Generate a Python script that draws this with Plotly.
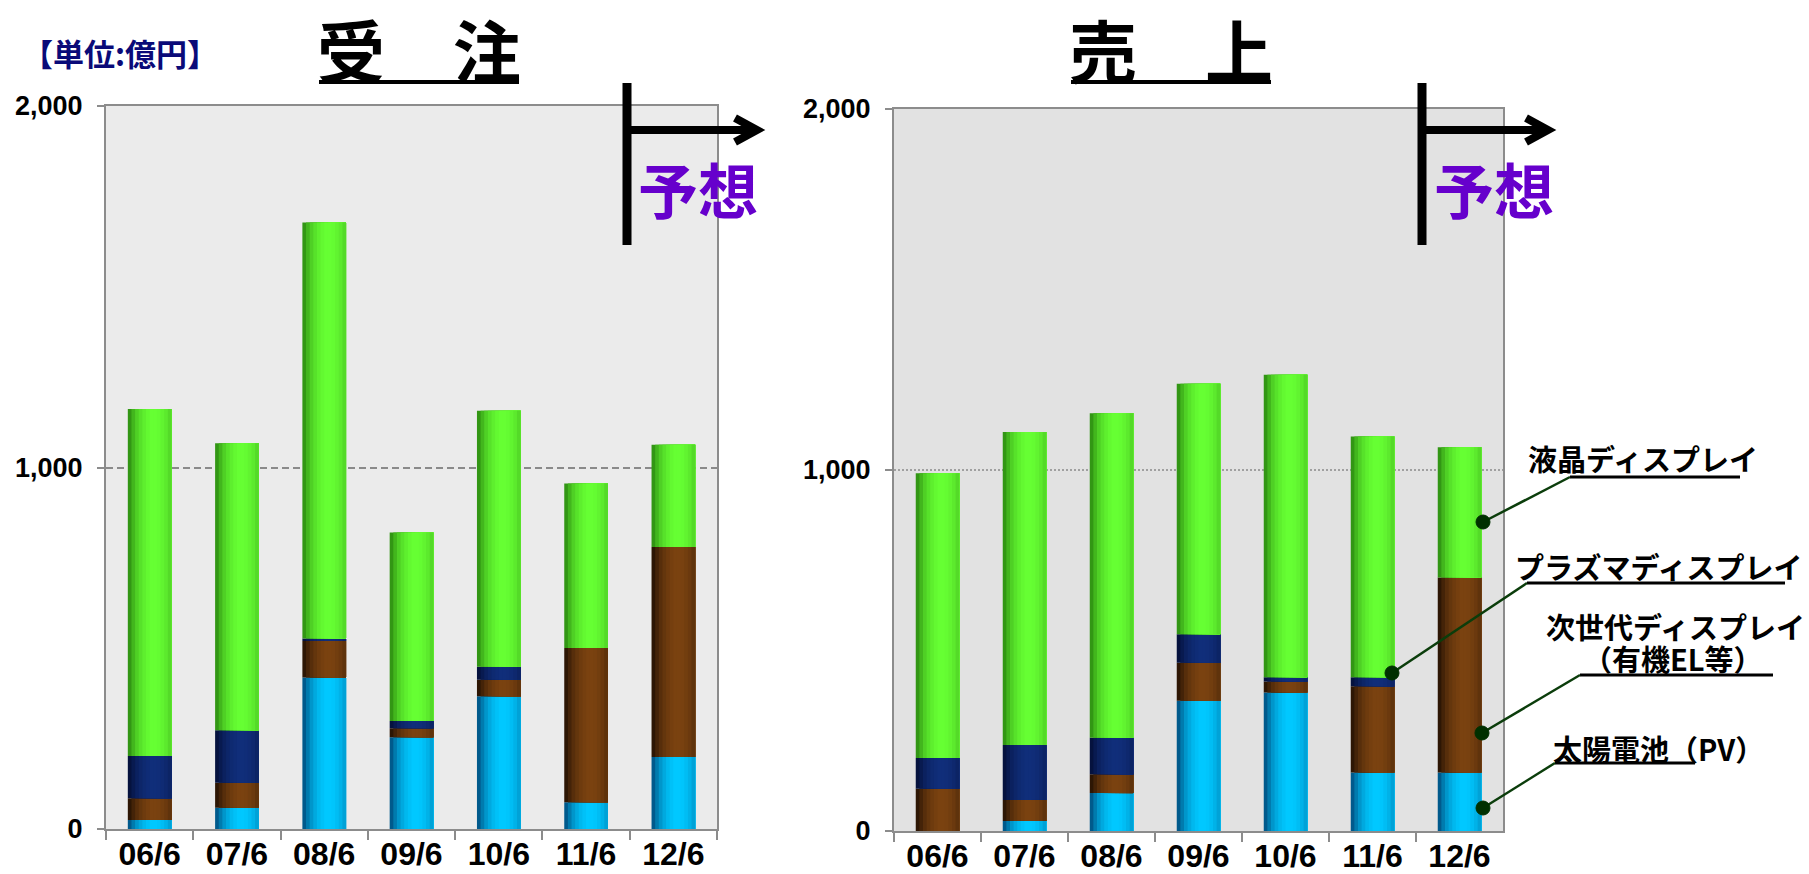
import plotly.graph_objects as go

# ---------------- data ----------------
categories = ["06/6", "07/6", "08/6", "09/6", "10/6", "11/6", "12/6"]

# 受注 (orders), 億円
orders_pv   = [25, 59, 419, 254, 367, 74, 199]     # 太陽電池(PV)
orders_oled = [60, 69, 101, 25, 46, 427, 581]      # 次世代ディスプレイ(有機EL等)
orders_pdp  = [117, 145, 7, 20, 36, 0, 0]          # プラズマディスプレイ
orders_lcd  = [960, 794, 1151, 521, 708, 455, 283] # 液晶ディスプレイ

# 売上 (sales), 億円
sales_pv   = [0, 28, 105, 361, 384, 162, 162]
sales_oled = [117, 58, 52, 105, 30, 239, 540]
sales_pdp  = [85, 152, 101, 79, 12, 25, 0]
sales_lcd  = [789, 867, 899, 694, 838, 667, 361]

series_names = ["太陽電池（PV）", "次世代ディスプレイ（有機EL等）", "プラズマディスプレイ", "液晶ディスプレイ"]
y_tickvals = [0, 1000, 2000]
titles = ["受　注", "売　上"]
unit_label = "【単位:億円】"
forecast_label = "予想"

# ---------------- style ----------------
W, H = 1809, 874
base_colors = [(0, 200, 255), (122, 66, 16), (16, 46, 122), (102, 255, 51)]
edge_colors = [(0, 90, 140), (45, 22, 4), (5, 18, 62), (50, 150, 20)]
# cylinder shading profile, left -> right
profile = [0.0, 0.3, 0.55, 0.72, 0.85, 0.94, 1.0, 1.0, 0.97, 0.9, 0.8, 0.65]
BAR_W = 0.5
JP = "Noto Sans CJK JP"
EN = "Liberation Sans"
EN_NARROW = "Liberation Sans Narrow, Liberation Sans"


def px(x):
    return x / W


def py(y):
    return 1 - y / H


def mix(c_edge, c_main, t):
    return "rgb(%d,%d,%d)" % tuple(round(e + (m - e) * t) for e, m in zip(c_edge, c_main))


fig = go.Figure()


def add_stack(stack, xa, ya):
    base = [0] * len(categories)
    n = len(profile)
    sw = BAR_W / n
    for si, vals in enumerate(stack):
        for k, t in enumerate(profile):
            fig.add_trace(go.Bar(
                x=categories, y=vals, base=list(base),
                offset=-BAR_W / 2 + k * sw, width=BAR_W - k * sw,
                marker=dict(color=mix(edge_colors[si], base_colors[si], t), line=dict(width=0)),
                name=series_names[si], showlegend=False, hoverinfo="skip",
                xaxis=xa, yaxis=ya,
            ))
        base = [b + v for b, v in zip(base, vals)]


add_stack([orders_pv, orders_oled, orders_pdp, orders_lcd], "x", "y")
add_stack([sales_pv, sales_oled, sales_pdp, sales_lcd], "x2", "y2")

axis_gray = "#8c8c8c"
tick_font_x = dict(family=EN_NARROW, size=32, color="black", weight="bold")
tick_font_y = dict(family=EN, size=27, color="black", weight="bold")


def xaxis_cfg(domain, anchor):
    return dict(domain=domain, anchor=anchor, type="category", categoryorder="array",
                categoryarray=categories, range=[-0.5, len(categories) - 0.5],
                tickson="boundaries", ticks="outside", ticklen=9, tickwidth=2, tickcolor=axis_gray,
                showline=True, linecolor=axis_gray, linewidth=2, mirror=True, automargin=False,
                showgrid=False, zeroline=False, tickfont=tick_font_x, ticklabelstandoff=-4,
                fixedrange=True)


def yaxis_cfg(domain, anchor, dash, gcolor):
    return dict(domain=domain, anchor=anchor, range=[0, 2000], tickvals=y_tickvals,
                tickformat=",", ticks="outside", ticklen=7, tickwidth=2, tickcolor=axis_gray,
                showline=True, linecolor=axis_gray, linewidth=2, mirror=True, automargin=False,
                showgrid=True, gridcolor=gcolor, gridwidth=2, griddash=dash,
                zeroline=False, tickfont=tick_font_y, ticklabelstandoff=9, fixedrange=True)


shapes = []
# plot backgrounds
shapes.append(dict(type="rect", xref="x domain", yref="y domain", x0=0, x1=1, y0=0, y1=1,
                   fillcolor="#ebebeb", line=dict(width=0), layer="below"))
shapes.append(dict(type="rect", xref="x2 domain", yref="y2 domain", x0=0, x1=1, y0=0, y1=1,
                   fillcolor="#e2e2e2", line=dict(width=0), layer="below"))


def pline(x0, y0, x1, y1, color="black", width=2):
    shapes.append(dict(type="line", xref="paper", yref="paper",
                       x0=px(x0), y0=py(y0), x1=px(x1), y1=py(y1),
                       line=dict(color=color, width=width)))


# title underlines
pline(319, 82, 519, 82, width=4)
pline(1071, 82, 1271, 82, width=4)

# forecast markers (vertical bar + arrow)
for vx, tip in [(627, 757), (1422, 1548)]:
    pline(vx, 83, vx, 245, width=9)
    pline(vx, 130, tip - 4, 130, width=8)
    shapes.append(dict(type="path", xref="paper", yref="paper",
                       path="M %f,%f L %f,%f L %f,%f" % (px(tip - 22), py(118), px(tip), py(130),
                                                          px(tip - 22), py(142)),
                       line=dict(color="black", width=8)))

# legend leader lines with dots
leader_color = "#0b3d0b"
leaders = [
    ((1570, 477), (1740, 477), (1483, 522)),
    ((1527, 583), (1785, 583), (1392, 673)),
    ((1580, 675), (1773, 675), (1482, 733)),
    ((1555, 763), (1695, 763), (1483, 808)),
]
for (ux0, uy), (ux1, _), (dx, dy) in leaders:
    pline(ux0, uy, ux1, uy, color="black", width=3)
    pline(ux0, uy, dx, dy, color=leader_color, width=2.5)
    shapes.append(dict(type="circle", xref="paper", yref="paper",
                       x0=px(dx - 7), x1=px(dx + 7), y0=py(dy + 7), y1=py(dy - 7),
                       fillcolor="#003000", line=dict(color="#003000", width=1)))

annotations = []


def ann(text, x, y, size, color="black", xanchor="center", family=JP):
    annotations.append(dict(text=text, xref="paper", yref="paper", x=px(x), y=py(y),
                            xanchor=xanchor, yanchor="middle", showarrow=False,
                            font=dict(family=family, size=size, color=color, weight="bold")))


ann(unit_label, 20, 53, 31, color="#0a0a78", xanchor="left")
ann(titles[0], 419, 48, 68)
ann(titles[1], 1171, 48, 68)
ann(forecast_label, 698, 187, 60, color="#6600cc")
ann(forecast_label, 1494, 187, 60, color="#6600cc")

ann("液晶ディスプレイ", 1526, 458, 29, xanchor="left")
ann("プラズマディスプレイ", 1513, 566, 29, xanchor="left")
ann("次世代ディスプレイ", 1544, 626, 29, xanchor="left")
ann("（有機EL等）", 1673, 658, 29)
ann("太陽電池（PV）", 1551, 748, 29, xanchor="left")

fig.update_layout(
    template="none",
    width=W, height=H, margin=dict(l=0, r=0, t=0, b=0, autoexpand=False),
    paper_bgcolor="white", plot_bgcolor="rgba(0,0,0,0)",
    barmode="overlay", showlegend=False,
    xaxis=xaxis_cfg([px(106), px(717)], "y"),
    yaxis=yaxis_cfg([py(829), py(106)], "x", "7px,4px", "#8a8a8a"),
    xaxis2=xaxis_cfg([px(894), px(1503)], "y2"),
    yaxis2=yaxis_cfg([py(831), py(109)], "x2", "2px,2px", "#a0a0a0"),
    shapes=shapes, annotations=annotations,
)

fig.write_html("out.html", config={"displayModeBar": False})
